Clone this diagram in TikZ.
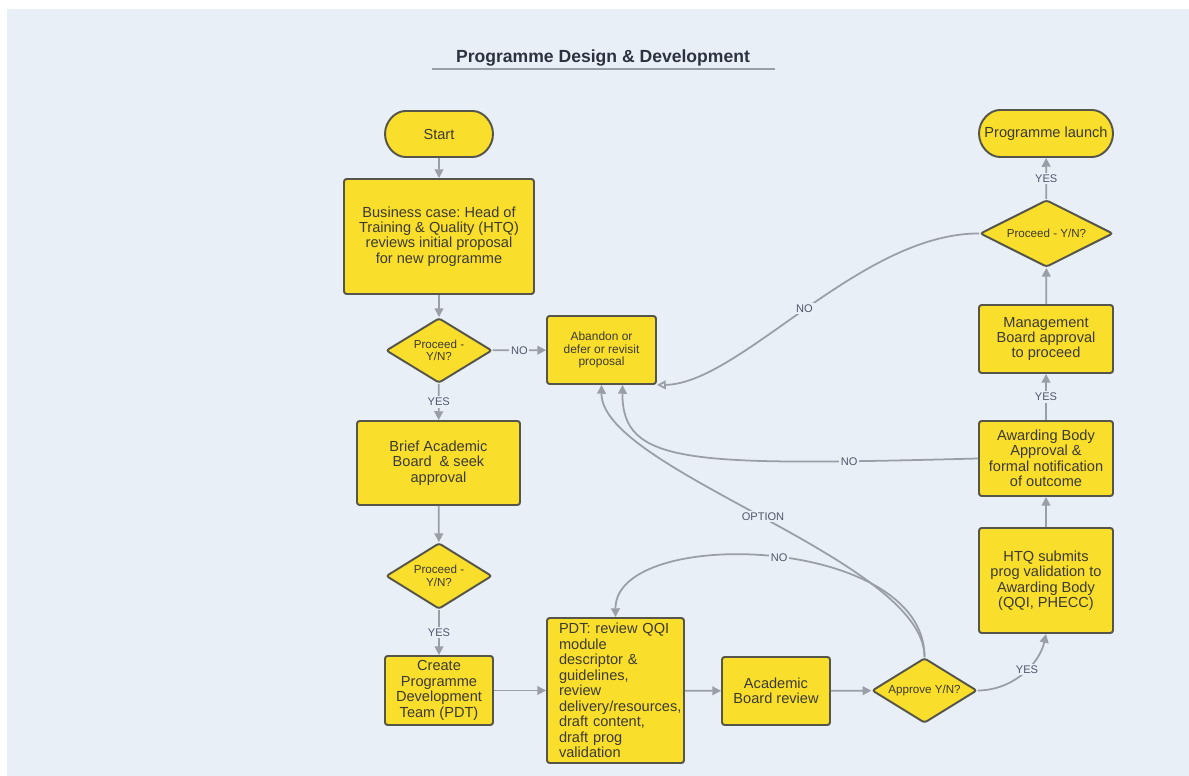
\documentclass[tikz,border=0pt]{standalone}
\usepackage{fontspec}
\setmainfont{Liberation Sans}
\usetikzlibrary{arrows.meta,shapes.geometric,shapes.misc}
\definecolor{pagebg}{HTML}{E8EFF7}
\definecolor{boxfill}{HTML}{F9DE2B}
\definecolor{boxline}{HTML}{56554A}
\definecolor{boxtext}{HTML}{3C3A30}
\definecolor{linkgrey}{HTML}{9A9EA6}
\definecolor{labelgrey}{HTML}{50576A}
\definecolor{titlecol}{HTML}{2E3240}
\frenchspacing
\begin{document}
\begin{tikzpicture}[x=0.02cm,y=-0.02cm,
    box/.style={draw=boxline,fill=boxfill,line width=1.1pt,rounded corners=1.5pt,
      align=center,text=boxtext,inner sep=0pt,font=\fontsize{8.3}{8.8}\selectfont},
    smallbox/.style={box,font=\fontsize{6.8}{7.2}\selectfont},
    pill/.style={box,rounded rectangle},
    choice/.style={box,diamond,aspect=2,font=\fontsize{6.6}{7.2}\selectfont},
    link/.style={draw=linkgrey,line width=1pt,-{Triangle[length=5pt,width=5pt]}},
    lbl/.style={fill=pagebg,inner sep=1pt,text=labelgrey,font=\fontsize{6.3}{7}\selectfont}]
  \useasboundingbox (0,0) rectangle (1189,776);
  \fill[white] (0,0) rectangle (1189,776);
  \fill[pagebg] (7,9) rectangle (1189,776);

  \node[font=\bfseries\fontsize{10}{12}\selectfont,text=titlecol] (title) at (603,58)
    {Programme Design \& Development};
  \draw[linkgrey,line width=1pt] (432,69) -- (775,69);

  \node[pill,minimum width=2.16cm,minimum height=0.92cm] (start) at (439,134) {Start};
  \node[box,minimum width=3.8cm,minimum height=2.3cm] (biz) at (439,236.5)
    {Business case: Head of\\Training \& Quality (HTQ)\\reviews initial proposal\\for new programme};
  \node[choice,minimum width=2.12cm,minimum height=1.3cm] (d1) at (439,350.5) {Proceed -\\Y/N?};
  \node[smallbox,minimum width=2.18cm,minimum height=1.36cm] (ab) at (601.5,350)
    {Abandon or\\defer or revisit\\proposal};
  \node[box,minimum width=3.26cm,minimum height=1.68cm] (brief) at (438.5,463)
    {Brief Academic\\Board\ \ \& seek\\approval};
  \node[choice,minimum width=2.12cm,minimum height=1.32cm] (d2) at (439,576) {Proceed -\\Y/N?};
  \node[box,minimum width=2.16cm,minimum height=1.38cm] (team) at (439,690.5)
    {Create\\Programme\\Development\\Team (PDT)};
  \node[box,minimum width=2.74cm,minimum height=2.9cm,text width=2.26cm,align=left] (pdt) at (615.5,690.5)
    {PDT: review QQI\\module\\descriptor \&\\guidelines,\\review\\\mbox{delivery/resources,}\\draft content,\\draft prog\\validation};
  \node[box,minimum width=2.16cm,minimum height=1.36cm] (acad) at (776,691) {Academic\\Board review};
  \node[choice,minimum width=2.1cm,minimum height=1.3cm] (ap) at (924.5,690.5) {Approve Y/N?};
  \node[box,minimum width=2.68cm,minimum height=2.1cm] (htq) at (1046,580.5)
    {HTQ submits\\prog validation to\\Awarding Body\\(QQI, PHECC)};
  \node[box,minimum width=2.68cm,minimum height=1.5cm] (award) at (1046,458.5)
    {Awarding Body\\Approval \&\\formal notification\\of outcome};
  \node[box,minimum width=2.68cm,minimum height=1.36cm] (mgmt) at (1046,339)
    {Management\\Board approval\\to proceed};
  \node[choice,minimum width=2.66cm,minimum height=1.34cm] (d3) at (1046.5,233.5) {Proceed - Y/N?};
  \node[pill,minimum width=2.68cm,minimum height=0.94cm] (launch) at (1046,133.5) {Programme launch};

  \begin{scope}[link]
    \draw (start) -- (biz);
    \draw (biz) -- (d1);
    \draw (d1) -- node[lbl]{NO} (ab);
    \draw (d1) -- node[lbl]{YES} (brief);
    \draw (brief) -- (d2);
    \draw (d2) -- node[lbl]{YES} (team);
    \draw (team) -- (pdt);
    \draw (pdt) -- (acad);
    \draw (acad) -- (ap);
    \draw (ap.east) .. controls (1015,690) and (1040,662) .. node[lbl,pos=0.55]{YES} (htq.south);
    \draw (htq) -- (award);
    \draw (award) -- node[lbl]{YES} (mgmt);
    \draw (mgmt) -- (d3);
    \draw (d3) -- node[lbl]{YES} (launch);
    \draw[-{Triangle[open,length=5pt,width=5pt]}] (d3.west) .. controls (860,233) and (740,384) .. node[lbl]{NO} (ab.south east);
    \draw (award.west) .. controls (689,466) and (622,465) .. node[lbl,pos=0.17]{NO} ([xshift=0.42cm]ab.south);
    \draw (ap.north) .. controls (925,560) and (601,470) .. node[lbl]{OPTION} (ab.south);
    \draw (ap.north) .. controls (925,535) and (615,525) .. node[lbl,pos=0.48]{NO} (pdt.north);
  \end{scope}
\end{tikzpicture}
\end{document}
